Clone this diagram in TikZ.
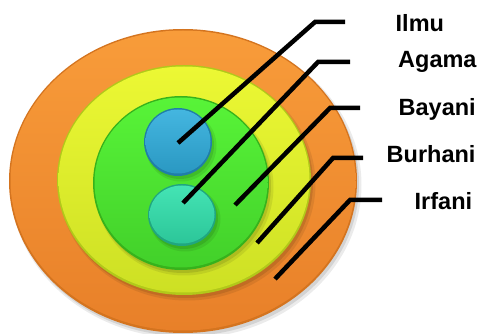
\documentclass[tikz,border=0pt]{standalone}
\usepackage{fontspec}
\setmainfont{Liberation Sans}

\definecolor{rimOrange}{HTML}{D4741F}
\definecolor{topOrange}{HTML}{F89C3A}
\definecolor{botOrange}{HTML}{E88029}
\definecolor{rimYellow}{HTML}{B2C81A}
\definecolor{topYellow}{HTML}{ECF834}
\definecolor{botYellow}{HTML}{CDE024}
\definecolor{rimGreen}{HTML}{36B21C}
\definecolor{topGreen}{HTML}{58F438}
\definecolor{botGreen}{HTML}{42D02A}
\definecolor{rimBlue}{HTML}{207EA8}
\definecolor{topBlue}{HTML}{44B6E0}
\definecolor{botBlue}{HTML}{2A98C2}
\definecolor{rimTeal}{HTML}{20A680}
\definecolor{topTeal}{HTML}{44E4B4}
\definecolor{botTeal}{HTML}{2CC699}

\begin{document}
\begin{tikzpicture}[x=1pt, y=-1pt,
    leader/.style={line width=4.5pt, black},
    label text/.style={inner sep=0pt, font=\fontsize{23.5}{28}\selectfont\bfseries}]

    \useasboundingbox (0,0) rectangle (480,334);

    % 1. Nested discs, outermost first (shadow, rim, shaded face)
    \foreach \cx/\cy/\rx/\ry/\c in {
        183/181/174/152/Orange,
        184/180/127/115/Yellow,
        181/183/88/87/Green,
        178/142/34/34/Blue,
        182/215/34/31/Teal} {
        \fill[black, opacity=0.08] (\cx+3,\cy+4) ellipse [x radius=\rx+1.5, y radius=\ry+1.5];
        \fill[black, opacity=0.10] (\cx+2,\cy+3) ellipse [x radius=\rx, y radius=\ry];
        \fill[rim\c] (\cx,\cy) ellipse [x radius=\rx, y radius=\ry];
        \shade[top color=top\c, bottom color=bot\c]
            (\cx,\cy-0.5) ellipse [x radius=\rx-1.5, y radius=\ry-2];
    }

    % 2. Leaders and labels
    \foreach \n/\tx/\ty/\bx/\by/\ex/\lx/\ly in {
        Ilmu/178/143/315/22/345/395.5/32,
        Agama/183/203/318/62/350/398/68,
        Bayani/235/205/330/108/360/398.5/116,
        Burhani/257/243/333/158/363/386.5/163,
        Irfani/275/279/350/200/382/414.5/210} {
        \coordinate (\n-tip) at (\tx,\ty);
        \coordinate (\n-bend) at (\bx,\by);
        \coordinate (\n-end) at (\ex,\by);
        \node[label text, anchor=base west] (\n) at (\lx,\ly) {\n};
        \draw[leader] (\n-tip) -- (\n-bend) -- (\n-end);
    }
\end{tikzpicture}
\end{document}
